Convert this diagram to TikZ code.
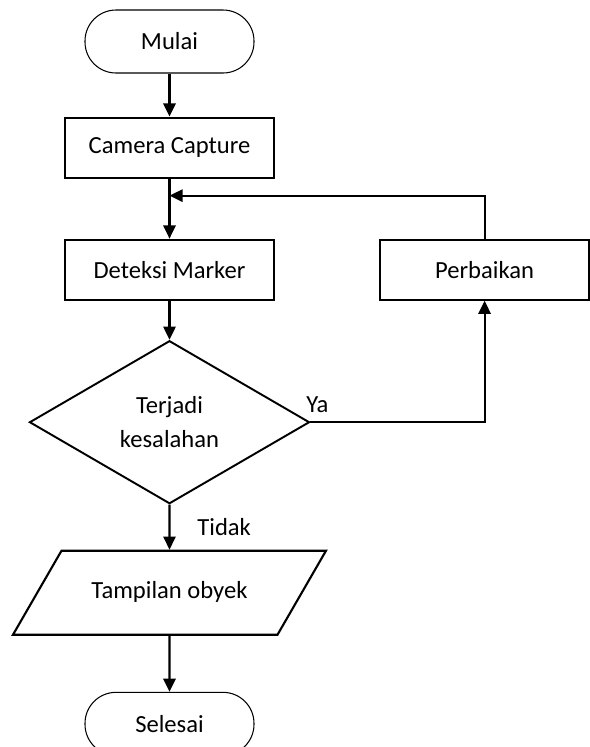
\documentclass[tikz,border=0pt]{standalone}
\usepackage{fontspec}
\setmainfont{Carlito}
\usetikzlibrary{positioning,shapes.geometric,arrows.meta}

\begin{document}
\begin{tikzpicture}[
	font=\fontsize{14}{17}\selectfont,
	terminal/.style={draw, line width=0.6pt, rounded corners=0.62cm,
		minimum width=3.38cm, minimum height=1.26cm},
	proses/.style={draw, line width=1.2pt,
		minimum width=4.18cm, minimum height=1.2cm},
	alur/.style={-{Triangle[length=7.5pt,width=7pt]}, line width=1.2pt}
	]
	
	\useasboundingbox (0,0) rectangle (11.8,-14.94);
	
	% Start
	\node [terminal] (mulai) at (3.39,-0.83) {Mulai};
	
	% Capture block
	\node [proses,
	below= 0.86cm of mulai
	]  (capture) {Camera Capture};
	
	% Marker detection
	\node [proses,
	below= 1.2cm of capture
	]  (deteksi) {Deteksi Marker};
	
	% Correction block
	\node [proses,
	right= 2.08cm of deteksi
	]  (perbaikan) {Perbaikan};
	
	% Decision
	\node [draw,
	diamond,
	line width=1.1pt,
	inner sep=0pt,
	align=center,
	minimum width=5.6cm,
	minimum height=3.26cm,
	below= 0.78cm of deteksi
	]  (keputusan) {Terjadi\\[2pt]kesalahan};
	
	% Output
	\node [draw,
	trapezium,
	trapezium left angle=60,
	trapezium right angle=120,
	trapezium stretches body,
	line width=1.2pt,
	text height=0.32cm,
	text depth=0.1cm,
	inner ysep=0.63cm,
	minimum width=6.26cm,
	below= 0.9cm of keputusan
	]  (tampil) {Tampilan obyek};
	
	% End
	\node [terminal,
	below= 1.12cm of tampil
	]  (selesai) {Selesai};
	
	\coordinate (gabung) at ([yshift=-0.34cm]capture.south);
	
	\draw[alur] (mulai) -- (capture);
	
	\draw[alur] (capture) -- (deteksi);
	
	\draw[alur] (deteksi) -- (keputusan);
	
	\draw[alur] (keputusan.east) node[anchor=south west, inner sep=1pt, xshift=-4pt, yshift=4pt] (ya) {Ya} -| (perbaikan.south);
	
	\draw[alur] (perbaikan.north) |- (gabung);
	
	\draw[alur] (keputusan) -- node[right=0.42cm] (tidak) {Tidak} (tampil);
	
	\draw[alur] (tampil) -- (selesai);
	
\end{tikzpicture}
\end{document}
